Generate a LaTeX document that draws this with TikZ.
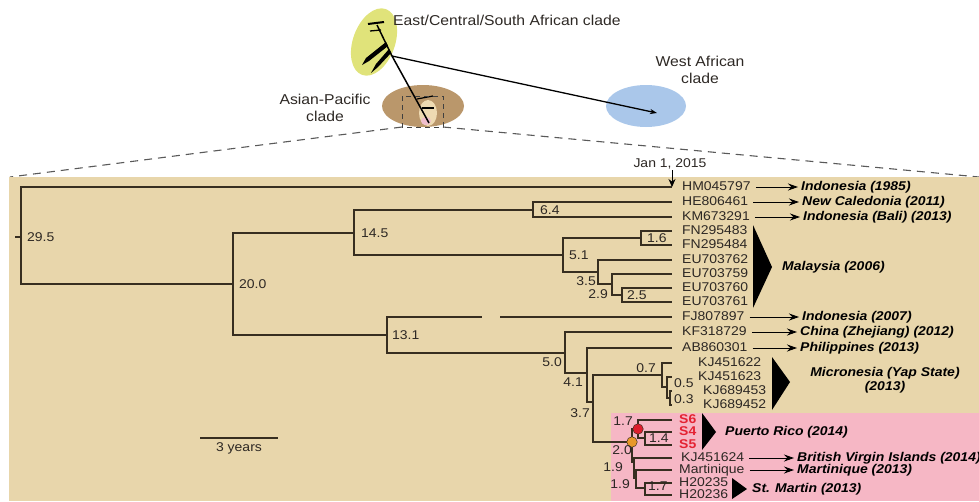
\documentclass[tikz,border=0pt]{standalone}
\usepackage{fontspec}
\setmainfont{Liberation Sans}[FakeStretch=1.1]
\usetikzlibrary{arrows.meta,positioning}
\definecolor{hintergrund}{RGB}{232,214,171}
\definecolor{rosa}{RGB}{246,183,197}
\definecolor{gelbgruen}{RGB}{224,227,122}
\definecolor{braun}{RGB}{186,151,107}
\definecolor{creme}{RGB}{238,218,178}
\definecolor{hellrosa}{RGB}{240,190,205}
\definecolor{hellblau}{RGB}{170,199,234}
\definecolor{astfarbe}{RGB}{55,46,32}
\definecolor{schrift}{RGB}{45,40,36}
\definecolor{rotS}{RGB}{228,34,50}
\definecolor{orangeP}{RGB}{232,152,40}
\definecolor{rotP}{RGB}{222,30,45}
\newcommand\baumschrift{\fontsize{12.7pt}{14pt}\selectfont}
\newcommand\titelschrift{\fontsize{14.3pt}{17pt}\selectfont}
\begin{document}
\begin{tikzpicture}[x=1pt,y=-1pt,
  zweig/.style={draw=astfarbe,line width=1.2pt},
  blatt/.style={anchor=west,inner sep=1pt,font=\baumschrift,text=schrift,text height=9pt,text depth=2.5pt},
  land/.style={anchor=west,inner sep=1pt,font=\baumschrift\bfseries\itshape,text height=9pt,text depth=2.5pt},
  wert/.style={inner sep=1pt,font=\baumschrift,text=schrift},
  titel/.style={inner sep=1pt,font=\titelschrift,text=schrift},
  pfeil/.style={-{Stealth[length=10pt,width=7pt]},line width=0.9pt,shorten <=4pt,shorten >=2pt},
  punkt/.style={circle,draw=astfarbe,line width=0.5pt,inner sep=0pt,minimum size=10.5pt},
  ]
\useasboundingbox (0,0) rectangle (979,501);
%Uebersicht oben
\fill[gelbgruen,rotate around={-20:(374,42)}] (374,42) ellipse [x radius=21pt,y radius=35pt];
\fill[braun] (423,106) ellipse [x radius=41pt,y radius=21pt];
\fill[creme] (428,113) ellipse [x radius=9pt,y radius=13pt];
\fill[hellrosa] (426,121) ellipse [x radius=5pt,y radius=4pt];
\fill[hellblau] (646,106) ellipse [x radius=40pt,y radius=21pt];
\node[titel,anchor=west] (ecsa) at (392,20) {East/Central/South African clade};
\node[titel,align=center] (wa) at (700,70) {West African\\clade};
\node[titel,align=center] (ap) at (325,108) {Asian-Pacific\\clade};
\coordinate (gabel) at (392,56);
\draw[line width=1.5pt] (377,25) -- (gabel) -- (429,123);
\draw[line width=1.3pt,-{Stealth[length=7pt,width=5pt]}] (gabel) -- (657,113);
\draw[line width=2pt] (368,24) -- (384,22);
\draw[line width=1.3pt] (370,31) -- (381,30);
\fill (386,42) -- (366,58) -- (362,65) -- (369,61) -- (388,46) -- cycle;
\fill (389,49) -- (376,64) -- (371,73) -- (378,67) -- (391,53) -- cycle;
\draw[line width=1.2pt] (417,99) -- (433,96);
\draw[line width=1.2pt] (422,108) -- (434,108);
\draw[dashed,line width=0.9pt,dash pattern=on 5pt off 4pt,black!75] (402,96) rectangle (443,127);
\draw[line width=1.1pt,dash pattern=on 8pt off 6pt,black!65] (402,127) -- (10,177);
\draw[line width=1.1pt,dash pattern=on 8pt off 6pt,black!65] (443,127) -- (979,177);
%Hintergrund Baum
\fill[hintergrund] (9,177) rectangle (979,501);
\fill[rosa] (611,413) rectangle (979,501);
%Blaetter
\foreach \n/\t/\x/\y in {HM/HM045797/681/187, HE/HE806461/681/202, KM/KM673291/681/217,
  F3/FN295483/681/231, F4/FN295484/681/245, E2/EU703762/681/260, E9/EU703759/681/274,
  E0/EU703760/681/288, E1/EU703761/681/302, FJ/FJ807897/681/317, KF/KF318729/681/332,
  AB/AB860301/681/348, K2/KJ451622/697/363, K3/KJ451623/697/377, K53/KJ689453/702/391,
  K52/KJ689452/702/405, KJ/KJ451624/680/458, MA/Martinique/678/470, H5/H20235/678/483,
  H6/H20236/678/495}{
  \node[blatt] (l\n) at (\x,\y) {\t};
  \coordinate (e\n) at (672,\y);
}
\foreach \n/\y in {S6/420, S4/432, S5/445}{
  \node[blatt,text=rotS,font=\baumschrift\bfseries] (l\n) at (678,\y) {\n};
  \coordinate (e\n) at (672,\y);
}
%Knoten
\coordinate (wurzel) at (15,237);
\coordinate (n295) at (21,237);
\coordinate (n200) at (233,284);
\coordinate (n145) at (354,233);
\coordinate (n64) at (533,210);
\coordinate (n51) at (563,255);
\coordinate (n16) at (641,238);
\coordinate (n35) at (598,272);
\coordinate (n29) at (612,284);
\coordinate (n25) at (622,295);
\coordinate (n131) at (387,335);
\coordinate (bruchA) at (482,317);
\coordinate (bruchB) at (500,317);
\coordinate (n50) at (565,353);
\coordinate (n41) at (587,373);
\coordinate (n37) at (593,402);
\coordinate (n07) at (662,375);
\coordinate (n05) at (667,387);
\coordinate (n03) at (670,398);
\coordinate (n20) at (632,442);
\coordinate (n17) at (638,429);
\coordinate (n14) at (645,438);
\coordinate (n19a) at (634,462);
\coordinate (n19b) at (636,478);
\coordinate (n17b) at (645,488);
\draw[zweig] (wurzel) -- (n295);
\foreach \a/\b in {n295/eHM, n295/n200, n200/n145, n200/n131, n145/n64, n145/n51,
  n64/eHE, n64/eKM, n51/n16, n51/n35, n16/eF3, n16/eF4, n35/eE2, n35/n29,
  n29/eE9, n29/n25, n25/eE0, n25/eE1, n131/bruchA, n131/n50, n50/eKF, n50/n41,
  n41/eAB, n41/n37, n37/n07, n37/n20, n07/eK2, n07/n05, n05/eK3, n05/n03,
  n03/eK53, n03/eK52, n20/n17, n20/n19a, n17/eS6, n17/n14, n14/eS4, n14/eS5,
  n19a/eKJ, n19a/n19b, n19b/eMA, n19b/n17b, n17b/eH5, n17b/eH6}
  \draw[zweig] (\a) |- (\b);
\draw[zweig] (bruchB) -- (eFJ);
\node[punkt,fill=orangeP] (p20) at (n20) {};
\node[punkt,fill=rotP] (p17) at (n17) {};
%Zeitwerte
\node[wert,right=5pt of n295] (w295) {29.5};
\node[wert,right=5pt of n200] (w200) {20.0};
\node[wert,right=6pt of n145] (w145) {14.5};
\node[wert,right=6pt of n64] (w64) {6.4};
\node[wert,right=5pt of n51] (w51) {5.1};
\node[wert,right=5pt of n16] (w16) {1.6};
\node[wert,right=4pt of n25] (w25) {2.5};
\node[wert,right=4pt of n131] (w131) {13.1};
\node[wert,anchor=east] (w35) at (597,281) {3.5};
\node[wert,anchor=east] (w29) at (609,294) {2.9};
\node[wert,anchor=east] (w50) at (563,362) {5.0};
\node[wert,anchor=east] (w41) at (584,382) {4.1};
\node[wert,anchor=east] (w37) at (591,413) {3.7};
\node[wert,anchor=east] (w07) at (657,368) {0.7};
\node[wert,anchor=west] (w05) at (673,383) {0.5};
\node[wert,anchor=west] (w03) at (673,399) {0.3};
\node[wert,anchor=east] (w17) at (634,421) {1.7};
\node[wert,anchor=west] (w14) at (648,438) {1.4};
\node[wert,anchor=east] (w20) at (633,450) {2.0};
\node[wert,anchor=east] (w19a) at (624,467) {1.9};
\node[wert,anchor=east] (w19b) at (631,484) {1.9};
\node[wert,anchor=west] (w17b) at (647,486) {1.7};
%Datum und Massstab
\node[wert] (jan) at (670,164) {Jan 1, 2015};
\draw[line width=1pt,-{Stealth[length=8pt,width=7pt]}] (jan.south -| eHM) -- (eHM);
\coordinate (skalaA) at (200,438);
\coordinate (skalaB) at (278,438);
\draw[line width=2pt,astfarbe] (skalaA) -- (skalaB) node[wert,midway,below=3pt] (skala) {3 years};
%Herkunft
\fill (753,225) -- (772,267) -- (753,308) -- cycle;
\fill (772,357) -- (790,382) -- (772,410) -- cycle;
\fill (702,413) -- (716,432) -- (702,450) -- cycle;
\fill (732,478) -- (747,489) -- (732,499) -- cycle;
\node[land] (cHM) at (800,187) {Indonesia (1985)};
\node[land] (cHE) at (801,202) {New Caledonia (2011)};
\node[land] (cKM) at (802,217) {Indonesia (Bali) (2013)};
\node[land] (cMY) at (781,267) {Malaysia (2006)};
\node[land] (cFJ) at (801,317) {Indonesia (2007)};
\node[land] (cKF) at (799,332) {China (Zhejiang) (2012)};
\node[land] (cAB) at (799,348) {Philippines (2013)};
\node[land,anchor=center,align=center] (cMI) at (885,387) {Micronesia (Yap State)\\(2013)};
\node[land] (cPR) at (724,432) {Puerto Rico (2014)};
\node[land] (cKJ) at (796,458) {British Virgin Islands (2014)};
\node[land] (cMA) at (796,470) {Martinique (2013)};
\node[land] (cSM) at (751,489) {St. Martin (2013)};
\foreach \a in {HM,HE,KM,FJ,KF,AB,KJ,MA}
  \draw[pfeil] (l\a) -- (c\a);
\end{tikzpicture}
\end{document}
